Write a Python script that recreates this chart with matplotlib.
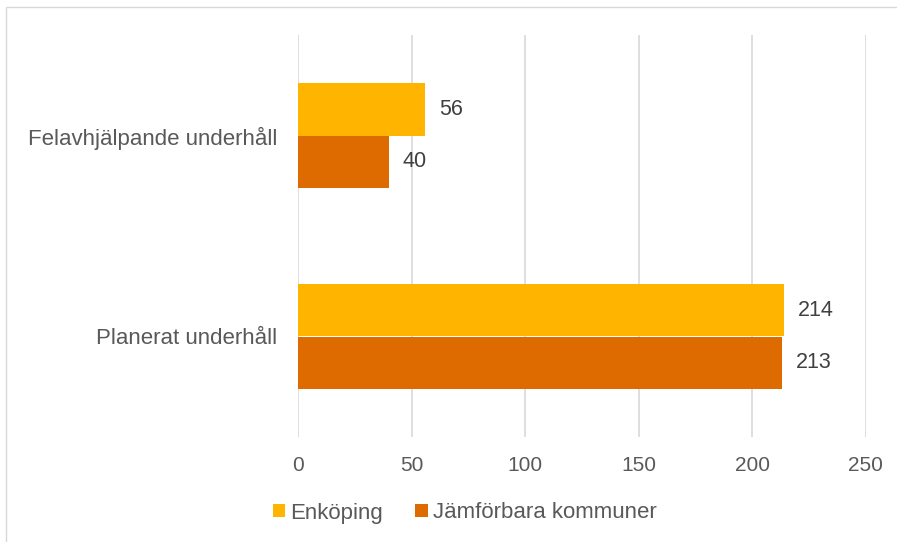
import numpy as np
import matplotlib.pyplot as plt
from matplotlib.patches import Rectangle

plt.rcParams['font.family'] = ['Liberation Sans', 'DejaVu Sans']

categories = ['Felavhjälpande underhåll', 'Planerat underhåll']
series_names = ['Enköping', 'Jämförbara kommuner']
enkoping = [56, 214]
jamforbara = [40, 213]
colors = ['#FFB400', '#DD6B00']
xticks = [0, 50, 100, 150, 200, 250]

fig = plt.figure(figsize=(8.97, 5.42), dpi=100)
ax = fig.add_axes([298 / 897, 1 - 437 / 542, (865.5 - 298) / 897, (437 - 35) / 542])

# outer chart frame (left and top only visible)
fig.patches.append(Rectangle((5.5 / 897, -0.1), 1.2, 1 - 6.5 / 542 + 0.1,
                             transform=fig.transFigure, fill=False,
                             edgecolor='#D9D9D9', linewidth=1))

y = np.arange(len(categories))
h = 0.262
bars1 = ax.barh(y - h / 2, enkoping, height=h, color=colors[0], label=series_names[0])
bars2 = ax.barh(y + h / 2, jamforbara, height=h, color=colors[1], label=series_names[1])

for bars, vals in [(bars1, enkoping), (bars2, jamforbara)]:
    for b, v in zip(bars, vals):
        ax.annotate(str(v), (b.get_width(), b.get_y() + b.get_height() / 2),
                    xytext=(10, 0), textcoords='offset points', va='center', ha='left',
                    fontsize=15.5, color='#404040')

ax.set_ylim(1.5, -0.5)
ax.set_xlim(0, 250)
ax.set_xticks(xticks)
ax.set_xticklabels([str(t) for t in xticks])
ax.set_yticks(y)
ax.set_yticklabels(categories)
ax.tick_params(axis='x', length=0, pad=14, labelsize=15, labelcolor='#595959')
ax.tick_params(axis='y', length=0, pad=15, labelsize=16, labelcolor='#595959')
ax.grid(axis='x', color='#D9D9D9', linewidth=1.2)
ax.set_axisbelow(True)
for s in ax.spines.values():
    s.set_visible(False)

leg = fig.legend(loc='center left', bbox_to_anchor=(273 / 897, 1 - 513 / 542), ncol=2,
                 frameon=False, fontsize=16, handlelength=0.55, handleheight=0.55,
                 handletextpad=0.23, columnspacing=1.45, labelcolor='#595959',
                 borderaxespad=0, borderpad=0)

fig.savefig('out.png', dpi=100)
